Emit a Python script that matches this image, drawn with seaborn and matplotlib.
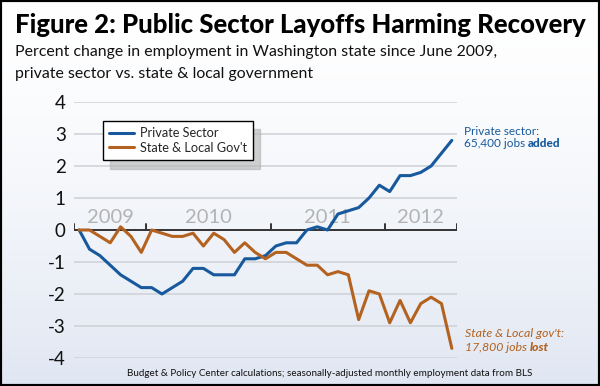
import numpy as np
import pandas as pd
import matplotlib
matplotlib.use("Agg")
import matplotlib.pyplot as plt
from matplotlib.patches import Rectangle
import seaborn as sns

# monthly, June 2009 - June 2012, % change since June 2009
months = pd.date_range("2009-06-01", "2012-06-01", freq="MS")
private_sector = [
    0.0, -0.6, -0.8, -1.1, -1.4, -1.6, -1.8, -1.8, -2.0, -1.8,
    -1.6, -1.2, -1.2, -1.4, -1.4, -1.4, -0.9, -0.9, -0.8, -0.5,
    -0.4, -0.4, 0.0, 0.1, 0.0, 0.5, 0.6, 0.7, 1.0, 1.4,
    1.2, 1.7, 1.7, 1.8, 2.0, 2.4, 2.8,
]
state_local = [
    0.0, 0.0, -0.2, -0.4, 0.1, -0.2, -0.7, 0.0, -0.1, -0.2,
    -0.2, -0.1, -0.5, -0.1, -0.3, -0.7, -0.4, -0.7, -0.9, -0.7,
    -0.7, -0.9, -1.1, -1.1, -1.4, -1.3, -1.4, -2.8, -1.9, -2.0,
    -2.9, -2.2, -2.9, -2.3, -2.1, -2.3, -3.7,
]
series_names = ["Private Sector", "State & Local Gov't"]
year_labels = ["2009", "2010", "2011", "2012"]
# category boundaries where the year ticks sit (as drawn in the original)
year_edges = [-0.5, 6.5, 18.5, 29.5, 36.5]
y_ticks = [4, 3, 2, 1, 0, -1, -2, -3, -4]

BLUE = "#17599c"
ORANGE = "#b4621f"

df = pd.DataFrame({
    "idx": np.tile(np.arange(len(months)), 2),
    "value": private_sector + state_local,
    "series": np.repeat(series_names, len(months)),
})

sns.set_style("white")
plt.rcParams["font.family"] = ["Lato", "DejaVu Sans"]

W, H = 600, 386
fig = plt.figure(figsize=(W / 100, H / 100), dpi=100)


def fit_text(x, y, s, width, size, **kw):
    """Place text, then shrink/grow its font so it spans `width` pixels."""
    t = fig.text(x / W, 1 - y / H, s, fontsize=size, va="baseline", ha="left", **kw)
    fig.canvas.draw()
    w = t.get_window_extent().width
    t.set_fontsize(size * width / w)
    return t


# gradient background
bg = fig.add_axes([0, 0, 1, 1], zorder=-10)
grad = np.linspace(0, 1, 256).reshape(-1, 1)
c_top = np.array([1.0, 1.0, 1.0])
c_bot = np.array([0.88, 0.905, 0.95])
img = c_top + (c_bot - c_top) * grad[..., None] ** 1.5
bg.imshow(img, aspect="auto", extent=[0, 1, 0, 1], origin="upper")
bg.set_axis_off()

ax = fig.add_axes([74 / W, 1 - 358 / H, (457 - 74) / W, (358 - 102) / H])
ax.patch.set_alpha(0)

sns.lineplot(data=df, x="idx", y="value", hue="series",
             palette=[BLUE, ORANGE], linewidth=2.2, ax=ax, zorder=3)

ax.set_xlim(-0.5, 36.5)
ax.set_ylim(-4, 4)
ax.set_xlabel("")
ax.set_ylabel("")
for s in ax.spines.values():
    s.set_visible(False)

ax.set_yticks(y_ticks)
ax.set_yticklabels([str(v) for v in y_ticks], fontsize=13.5, color="#111111")
ax.tick_params(axis="y", length=0, pad=6)
for v in y_ticks:
    if v != 0:
        ax.axhline(v, color="#d0d3d8", linewidth=1.2, zorder=1)
ax.axhline(0, color="#333333", linewidth=1.4, zorder=2)

ax.set_xticks([])
for e in year_edges:
    ax.plot([e, e], [0, 0.18], color="#333333", linewidth=1.4, zorder=2)
for lab, a, b in zip(year_labels, year_edges[:-1], year_edges[1:]):
    ax.text((a + b) / 2, 0.12, lab, ha="center", va="bottom",
            fontsize=14.5, color="#b3b3b3", zorder=1)

leg = ax.legend(loc="upper left", bbox_to_anchor=((103 - 74) / 383, 1 - (121 - 102) / 256),
                frameon=True, fancybox=False,
                shadow={"color": "0.7", "alpha": 0.6, "ox": 5, "oy": -6},
                fontsize=9.2, handlelength=1.9, borderpad=0.5, labelspacing=0.2,
                handletextpad=0.5, borderaxespad=0)
leg.get_frame().set_edgecolor("black")
leg.get_frame().set_linewidth(1.0)
leg.get_frame().set_facecolor("white")

# text
fit_text(15, 33, "Figure 2: Public Sector Layoffs Harming Recovery", 568, 19,
         fontweight="black", color="black")
fit_text(15, 56, "Percent change in employment in Washington state since June 2009,",
         480, 12, color="#111111")
fig.text(15 / W, 1 - 78 / H, "private sector vs. state & local government",
         fontsize=fig.texts[-1].get_fontsize(), va="baseline", ha="left", color="#111111")

fig.text(464 / W, 1 - 135 / H, "Private sector:", fontsize=8.5, color=BLUE, va="baseline")
t = fig.text(464 / W, 1 - 147 / H, "65,400 jobs ", fontsize=8.5, color=BLUE, va="baseline")
fig.canvas.draw()
bb = t.get_window_extent()
fig.text(bb.x1 / W, 1 - 147 / H, "added", fontsize=8.5, color=BLUE, va="baseline",
         fontweight="black")

fig.text(465 / W, 1 - 337 / H, "State & Local gov't:", fontsize=8.9, color=ORANGE,
         va="baseline", style="italic")
t2 = fig.text(465 / W, 1 - 351 / H, "17,800 jobs ", fontsize=8.9, color=ORANGE,
              va="baseline", style="italic")
fig.canvas.draw()
bb2 = t2.get_window_extent()
fig.text(bb2.x1 / W, 1 - 351 / H, "lost", fontsize=8.9, color=ORANGE, va="baseline",
         style="italic", fontweight="black")

fit_text(127, 376,
         "Budget & Policy Center calculations; seasonally-adjusted monthly employment data from BLS",
         403, 7, color="#111111")

# border
fig.patches.append(Rectangle((0, 0), 1, 1, transform=fig.transFigure, fill=False,
                             edgecolor="black", linewidth=3, zorder=10))

fig.savefig("out.png", dpi=100)
